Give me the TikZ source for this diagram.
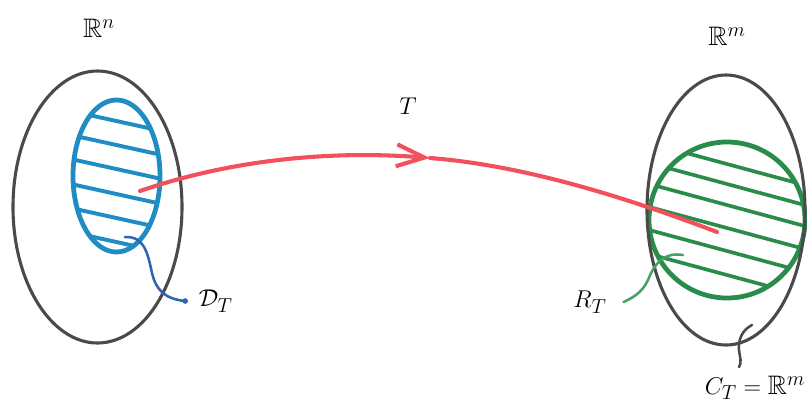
\documentclass[tikz,border=0pt]{standalone}
\usepackage{amsmath,amssymb}
\usepackage{tikz}
\usetikzlibrary{arrows.meta}
\usepackage{xcolor}
\definecolor{inkBlue}{HTML}{1F8DC4}
\definecolor{leadBlue}{HTML}{2F64B0}
\definecolor{inkGreen}{HTML}{2A8C4A}
\definecolor{leadGreen}{HTML}{46A066}
\definecolor{inkRed}{HTML}{F2505C}
\definecolor{inkGray}{HTML}{4A4A4A}

\begin{document}
\begin{tikzpicture}[
    x=0.025cm, y=-0.025cm,
    every node/.style={font=\fontsize{19}{23}\selectfont},
    outerSet/.style={draw=inkGray, line width=2.2pt},
    blueSet/.style={draw=inkBlue, line width=3.4pt},
    greenSet/.style={draw=inkGreen, line width=3.4pt},
    hatchBlue/.style={draw=inkBlue, line width=2.8pt},
    hatchGreen/.style={draw=inkGreen, line width=2.6pt},
    leaderLine/.style={line width=1.8pt, line cap=round},
    mapArrow/.style={draw=inkRed, line width=2.9pt, line cap=round}
]
    \useasboundingbox (0,0) rectangle (807,403);

    % Dominio in R^n
    \draw[outerSet] (97.5,207) ellipse [x radius=84.5, y radius=136];
    \begin{scope}
        \clip (116.5,176) ellipse [x radius=43.5, y radius=76];
        \foreach \y in {121,145,169,194,218,242}
            \draw[hatchBlue] (60,\y-12.4) -- (175,\y+12.9);
    \end{scope}
    \draw[blueSet] (116.5,176) ellipse [x radius=43.5, y radius=76];

    % Immagine in R^m
    \begin{scope}
        \clip (727,220) circle [radius=78];
        \foreach \y in {164,184,205,228,251,275}
            \draw[hatchGreen] (640,\y-23.5) -- (815,\y+23.8);
    \end{scope}
    \draw[greenSet] (727,220) circle [radius=78];
    \draw[outerSet] (726,210) ellipse [x radius=79, y radius=135];

    % Etichette
    \node (rn) at (99,28) {$\mathbb{R}^n$};
    \node (rm) at (727,36) {$\mathbb{R}^m$};
    \node (tlab) at (408,106) {$T$};
    \node[anchor=west] (dlab) at (194,301) {$\mathcal{D}_T$};
    \node (rlab) at (590,302) {$R_T$};
    \node (clab) at (755,388) {$C_T = \mathbb{R}^m$};

    % Freccia T
    \coordinate (dPt) at (140,191);
    \coordinate (mid) at (430,158);
    \coordinate (rPt) at (717,232);
    \draw[mapArrow, -{Straight Barb[length=7mm, width=5.5mm]}]
        (dPt) .. controls (230,160) and (330,150) .. (mid);
    \draw[mapArrow] (mid) .. controls (520,165) and (620,195) .. (rPt);

    % Richiami
    \coordinate (dHook) at (125,237);
    \coordinate (rHook) at (683,255);
    \coordinate (cHook) at (752,325);
    \draw[leaderLine, leadBlue] (dHook) .. controls (145,236) and (148,255) .. (152,273)
        .. controls (156,290) and (165,299) .. ([xshift=-2.2mm]dlab.west);
    \fill[leadBlue] ([xshift=-2.2mm]dlab.west) circle (2pt);
    \draw[leaderLine, leadGreen] (rHook) .. controls (665,252) and (655,262) .. (648,280)
        .. controls (642,293) and (632,298) .. ([xshift=3mm]rlab.east);
    \draw[leaderLine, inkGray] (cHook) .. controls (742,330) and (738,340) .. (739,350)
        .. controls (740,358) and (742,362) .. ([xshift=-4mm,yshift=1mm]clab.north);
\end{tikzpicture}
\end{document}
